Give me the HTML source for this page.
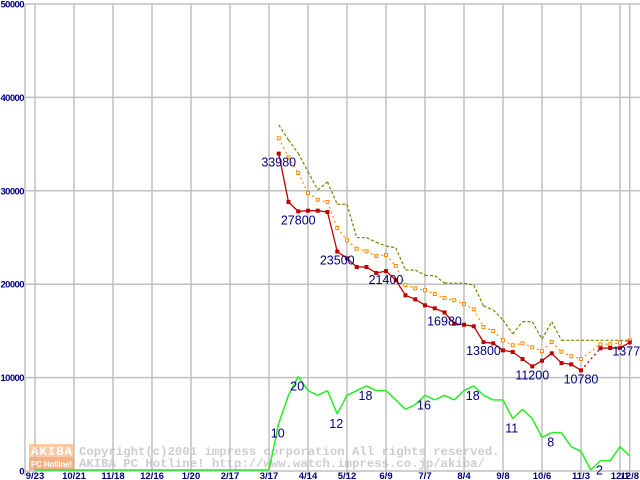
<!DOCTYPE html>
<html><head><meta charset="utf-8"><style>
html,body{margin:0;padding:0;background:#fff;width:640px;height:480px;overflow:hidden}
svg{display:block}
.tk{font-family:"Liberation Sans",sans-serif;font-size:9.5px;font-weight:bold;fill:#000080}
.lb{font-family:"Liberation Sans",sans-serif;font-size:12.5px;fill:#000080}
.wm{font-family:"Liberation Mono",monospace;font-size:12.3px;font-weight:bold;fill:#bdbdbd}
</style></head><body>
<svg id="chart" width="640" height="480" xmlns="http://www.w3.org/2000/svg">
<g id="grid"></g>
<g id="wmark" opacity="0.75">
<rect x="29" y="444" width="45" height="13" fill="#f6b98c"/>
<rect x="29" y="457" width="45" height="13" fill="#f09a60"/>
<text x="31" y="455" font-family="Liberation Mono,monospace" font-size="12" font-weight="bold" fill="#fff" textLength="41">AKIBA</text>
<text x="31" y="467" font-family="Liberation Sans,sans-serif" font-size="8" font-weight="bold" fill="#fff" textLength="41">PC Hotline!</text>
<text class="wm" x="79" y="455">Copyright(c)2001 impress corporation All rights reserved.</text>
<text class="wm" x="79" y="467">AKIBA PC Hotline!  http://www.watch.impress.co.jp/akiba/</text>
</g>
<g id="series"></g>
</svg>
<script>
const yTicks = [0,10000,20000,30000,40000,50000];
const xTickWeeks = [0,4,8,12,16,20,24,28,32,36,40,44,48,52,56,60,61];
const xTickLabels = ["9/23","10/21","11/18","12/16","1/20","2/17","3/17","4/14","5/12","6/9","7/7","8/4","9/8","10/6","11/3","12/1","12/8"];
const redWeeks = [25,26,27,28,29,30,31,32,33,34,35,36,37,38,39,40,41,42,43,44,45,46,47,48,49,50,51,52,53,54,55,56,58,59,60,61];
const redValues = [33980,28800,27800,27870,27870,27730,23500,22770,21840,21840,21200,21400,20450,18810,18380,17740,17420,16980,15770,15660,15490,13800,13670,12920,12740,11990,11200,11810,12600,11560,11420,10780,13140,13170,13170,13770];
const orangeWeeks = redWeeks;
const orangeValues = [35620,33590,31910,29770,29050,28800,26020,24700,23800,23520,23020,23130,21950,19910,19560,19350,18950,18520,18280,17880,17310,15420,14990,13990,13460,13670,13240,12850,13810,12770,12280,11990,13570,13570,13740,13990];
const oliveWeeks = [25,26,27,28,29,30,31,32,33,34,35,36,37,38,39,40,41,42,43,44,45,46,47,48,49,50,51,52,53,54,55,56,57,58,59,60,61];
const oliveValues = [37050,35440,34020,32050,30090,30950,28560,28560,24980,24980,24490,24090,23910,21520,21520,20950,20910,20130,20100,20100,19920,17670,17240,16170,14670,15990,15990,14130,15990,13990,13990,13990,13990,13990,13990,13990,13990];
const greenWeeks = [0,24,25,26,27,28,29,30,31,32,33,34,35,36,37,38,39,40,41,42,43,44,45,46,47,48,49,50,51,52,53,54,55,56,57,58,59,60,61];
const greenCounts = [0,0,10,16,20,17,16,17,12,16,17,18,17,17,15,13,14,16,15,16,15,17,18,16,15,15,11,13,11,7,8,8,5,4,0,2,2,5,3];
const redLabelWeeks = [25,27,31,36,42,46,51,56,61];
const greenLabelWeeks = [25,27,31,34,40,45,49,53,58];

const NS="http://www.w3.org/2000/svg";
const X = w => 35 + w*9.75;
const Y = v => 471 - v*467/50000;
const G = c => Y(c*500) - 1;
function mk(tag, attrs, parent){const e=document.createElementNS(NS,tag);for(const k in attrs)e.setAttribute(k,attrs[k]);parent.appendChild(e);return e;}
const grid=document.getElementById('grid'), ser=document.getElementById('series');

yTicks.forEach(v=>{
  const l=mk('line',{x1:25,x2:640,y1:Y(v),y2:Y(v),stroke:'#c0c0c0','stroke-width':1.5},grid);
  
  
  const s=String(v);
  const a={x:24.5,y:Y(v)+3.5,'text-anchor':'end',class:'tk'};
  if(s.length>1){a.textLength=s.length*4.8;a.lengthAdjust='spacing';}
  const t=mk('text',a,grid);
  t.textContent=s;
  
  
});
const ax=mk('line',{x1:25,x2:25,y1:4,y2:476,stroke:'#c0c0c0','stroke-width':1.5},grid);


xTickWeeks.forEach((w,i)=>{
  const l=mk('line',{x1:X(w),x2:X(w),y1:4,y2:476,stroke:'#c0c0c0','stroke-width':1.5},grid);
  
  
  const t=mk('text',{x:X(w),y:479,'text-anchor':'middle',class:'tk'},grid);
  t.textContent=xTickLabels[i];
  
  
});

function drawLine(weeks, vals, fy, color, width, dash, gapDash, name){
  for(let i=1;i<weeks.length;i++){
    const gap = gapDash && weeks[i]-weeks[i-1]>1;
    const a={x1:X(weeks[i-1]),y1:fy(vals[i-1]),x2:X(weeks[i]),y2:fy(vals[i]),stroke:color,'stroke-width':width};
    if(dash||gap) a['stroke-dasharray']=dash||'2 3';
    const s=mk('line',a,ser);
    
    
  }
}
drawLine(greenWeeks,greenCounts,G,'#22ee22',1.5,null,false,'shop-count-line');
drawLine(oliveWeeks,oliveValues,Y,'#808000',1.2,'3 2',false,'max-price-line');
drawLine(orangeWeeks,orangeValues,Y,'#ff8c00',1.2,'2 3',true,'avg-price-line');
drawLine(redWeeks,redValues,Y,'#c00000',1.3,null,true,'min-price-line');
orangeWeeks.forEach((w,i)=>{
  const r=mk('rect',{x:X(w)-1.5,y:Y(orangeValues[i])-1.5,width:3,height:3,fill:'#fff',stroke:'#ff8c00','stroke-width':1},ser);
  
  
});
redWeeks.forEach((w,i)=>{
  const r=mk('rect',{x:X(w)-2,y:Y(redValues[i])-2,width:4,height:4,fill:'#c00000'},ser);
  
  
});
redLabelWeeks.forEach(w=>{
  const i=redWeeks.indexOf(w);
  const t=mk('text',{x:X(w),y:Y(redValues[i])+13,'text-anchor':'middle',class:'lb'},ser);
  t.textContent=redValues[i];
  
  
});
greenLabelWeeks.forEach(w=>{
  const i=greenWeeks.indexOf(w);
  const t=mk('text',{x:X(w)-1,y:G(greenCounts[i])+14,'text-anchor':'middle',class:'lb'},ser);
  t.textContent=greenCounts[i];
  
  
});
</script>
</body></html>
